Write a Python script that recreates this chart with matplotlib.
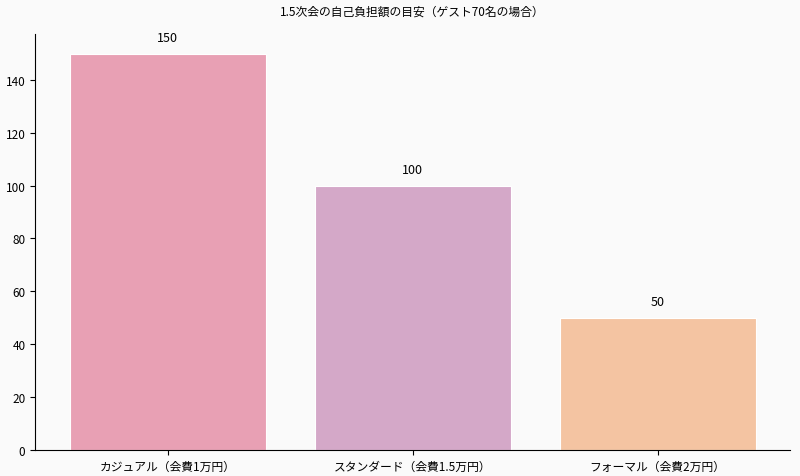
import matplotlib.pyplot as plt

plt.rcParams['font.family'] = ['Noto Sans CJK JP', 'DejaVu Sans']

# データ
categories = ['カジュアル（会費1万円）', 'スタンダード（会費1.5万円）', 'フォーマル（会費2万円）']
values = [150, 100, 50]
colors = ['#e8a0b4', '#d4a8c8', '#f4c4a2']

fig = plt.figure(figsize=(8, 4.77), dpi=100, facecolor='#fafafa')
ax = fig.add_axes([0.044, 0.055, 0.9435, 0.872])
ax.set_facecolor('#fafafa')

bars = ax.bar(categories, values, color=colors, width=0.8,
              edgecolor='white', linewidth=0.8)
for b, v in zip(bars, values):
    ax.annotate(f'{v}', (b.get_x() + b.get_width() / 2, v), xytext=(0, 7),
                textcoords='offset points', ha='center', va='bottom', fontsize=9)

ax.set_title('1.5次会の自己負担額の目安（ゲスト70名の場合）', fontsize=8.5, pad=14)
ax.spines['top'].set_visible(False)
ax.spines['right'].set_visible(False)
ax.tick_params(labelsize=8.5)

plt.savefig('out.png', dpi=100, facecolor=fig.get_facecolor())
